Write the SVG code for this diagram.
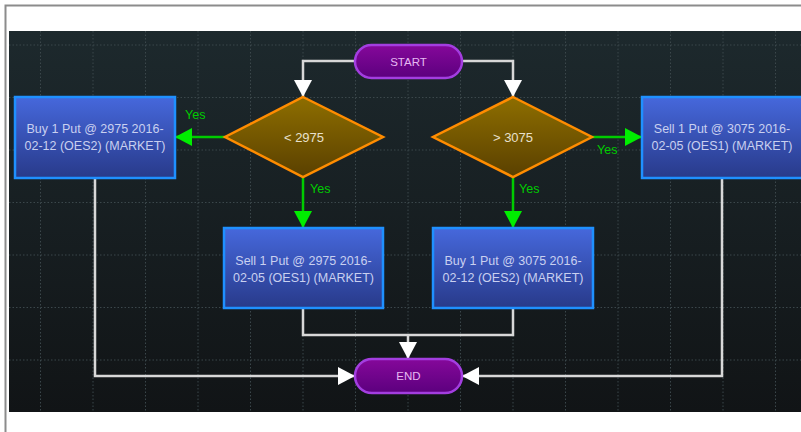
<svg xmlns="http://www.w3.org/2000/svg" width="801" height="432" viewBox="0 0 801 432">
<defs>
<linearGradient id="bg" x1="0" y1="0" x2="0" y2="1"><stop offset="0" stop-color="#1d292d"/><stop offset="1" stop-color="#111416"/></linearGradient>
<linearGradient id="pill" x1="0" y1="0" x2="0" y2="1"><stop offset="0" stop-color="#85089a"/><stop offset="1" stop-color="#5c007e"/></linearGradient>
<linearGradient id="dia" x1="0" y1="0" x2="0" y2="1"><stop offset="0" stop-color="#8e6e00"/><stop offset="1" stop-color="#5a4000"/></linearGradient>
<linearGradient id="box" x1="0" y1="0" x2="0" y2="1"><stop offset="0" stop-color="#4668dc"/><stop offset="1" stop-color="#283a8a"/></linearGradient>
<marker id="aw" markerUnits="userSpaceOnUse" markerWidth="18" markerHeight="18" refX="17" refY="9" orient="auto"><path d="M0,0 L17,9 L0,18 z" fill="#ffffff"/></marker>
<marker id="ag" markerUnits="userSpaceOnUse" markerWidth="18" markerHeight="18" refX="17" refY="9" orient="auto"><path d="M0,0 L17,9 L0,18 z" fill="#00ee00"/></marker>
</defs>
<style>
.grid{stroke:#3b474b;stroke-width:1;stroke-dasharray:1.5 2;fill:none}
.pill{fill:url(#pill);stroke:#a33ee0;stroke-width:2.5}
.dia{fill:url(#dia);stroke:#ff8c00;stroke-width:2.5}
.box{fill:url(#box);stroke:#1f90ff;stroke-width:2.5}
.t{font-family:"Liberation Sans",Arial,sans-serif;font-size:12.5px;fill:#c9d0f0;text-anchor:middle}
.pt{font-family:"Liberation Sans",Arial,sans-serif;font-size:11.5px;fill:#e6b8f2;text-anchor:middle}
.dt{font-family:"Liberation Sans",Arial,sans-serif;font-size:13px;fill:#e8e0cc;text-anchor:middle}
.yes{font-family:"Liberation Sans",Arial,sans-serif;font-size:12.5px;fill:#00cc00}
.cw{stroke:#d8d8d8;stroke-width:2.5;fill:none}
.cg{stroke:#00cc00;stroke-width:2.5;fill:none}
</style>
<rect x="0" y="0" width="801" height="432" fill="#ffffff"/>
<path d="M5.5,432 V5.5 H801" fill="none" stroke="#8c8c8c" stroke-width="2"/>
<rect x="9" y="31" width="792" height="381" fill="url(#bg)"/>
<path class="grid" d="M40.5,31V412M93,31V412M145.5,31V412M198,31V412M250.5,31V412M303,31V412M355.5,31V412M408,31V412M460.5,31V412M513,31V412M565.5,31V412M618,31V412M670.5,31V412M723,31V412M775.5,31V412M9,45H801M9,97.5H801M9,150H801M9,202.5H801M9,255H801M9,307.5H801M9,360H801"/>
<g id="connectors">
<path class="cw" d="M355,61 H303 V97" marker-end="url(#aw)"/>
<path class="cw" d="M462,61 H513 V97" marker-end="url(#aw)"/>
<path class="cg" d="M225,137 H175" marker-end="url(#ag)"/>
<path class="cg" d="M303,177 V228" marker-end="url(#ag)"/>
<path class="cg" d="M592,137 H642" marker-end="url(#ag)"/>
<path class="cg" d="M513,177 V228" marker-end="url(#ag)"/>
<path class="cw" d="M303,308 V335 H513 V308"/>
<path class="cw" d="M408,335 V359" marker-end="url(#aw)"/>
<path class="cw" d="M95,178 V376 H355" marker-end="url(#aw)"/>
<path class="cw" d="M722,178 V376 H462" marker-end="url(#aw)"/>
<text class="yes" x="185" y="119">Yes</text>
<text class="yes" x="310" y="193">Yes</text>
<text class="yes" x="597" y="154">Yes</text>
<text class="yes" x="519" y="193">Yes</text>
</g>
<g id="start"><rect class="pill" x="355" y="45" width="107" height="33" rx="16.5"/><text class="pt" x="408.5" y="65.5">START</text></g>
<g id="lt2975"><path class="dia" d="M303,97 L383,137 L303,177 L225,137 z"/><text class="dt" x="304" y="142">&lt; 2975</text></g>
<g id="gt3075"><path class="dia" d="M513,97 L592,137 L513,177 L433,137 z"/><text class="dt" x="513" y="142">&gt; 3075</text></g>
<g id="buy2975"><rect class="box" x="15" y="97" width="160" height="81"/><text class="t" x="95" y="133">Buy 1 Put @ 2975 2016-</text><text class="t" x="95" y="150">02-12 (OES2) (MARKET)</text></g>
<g id="sell3075"><rect class="box" x="642" y="97" width="162" height="81"/><text class="t" x="722" y="133">Sell 1 Put @ 3075 2016-</text><text class="t" x="722" y="150">02-05 (OES1) (MARKET)</text></g>
<g id="sell2975"><rect class="box" x="224" y="228" width="159" height="80"/><text class="t" x="303.5" y="265">Sell 1 Put @ 2975 2016-</text><text class="t" x="303.5" y="282">02-05 (OES1) (MARKET)</text></g>
<g id="buy3075"><rect class="box" x="433" y="228" width="160" height="80"/><text class="t" x="513" y="265">Buy 1 Put @ 3075 2016-</text><text class="t" x="513" y="282">02-12 (OES2) (MARKET)</text></g>
<g id="end"><rect class="pill" x="355" y="359" width="107" height="34" rx="17"/><text class="pt" x="408.5" y="380">END</text></g>
</svg>
